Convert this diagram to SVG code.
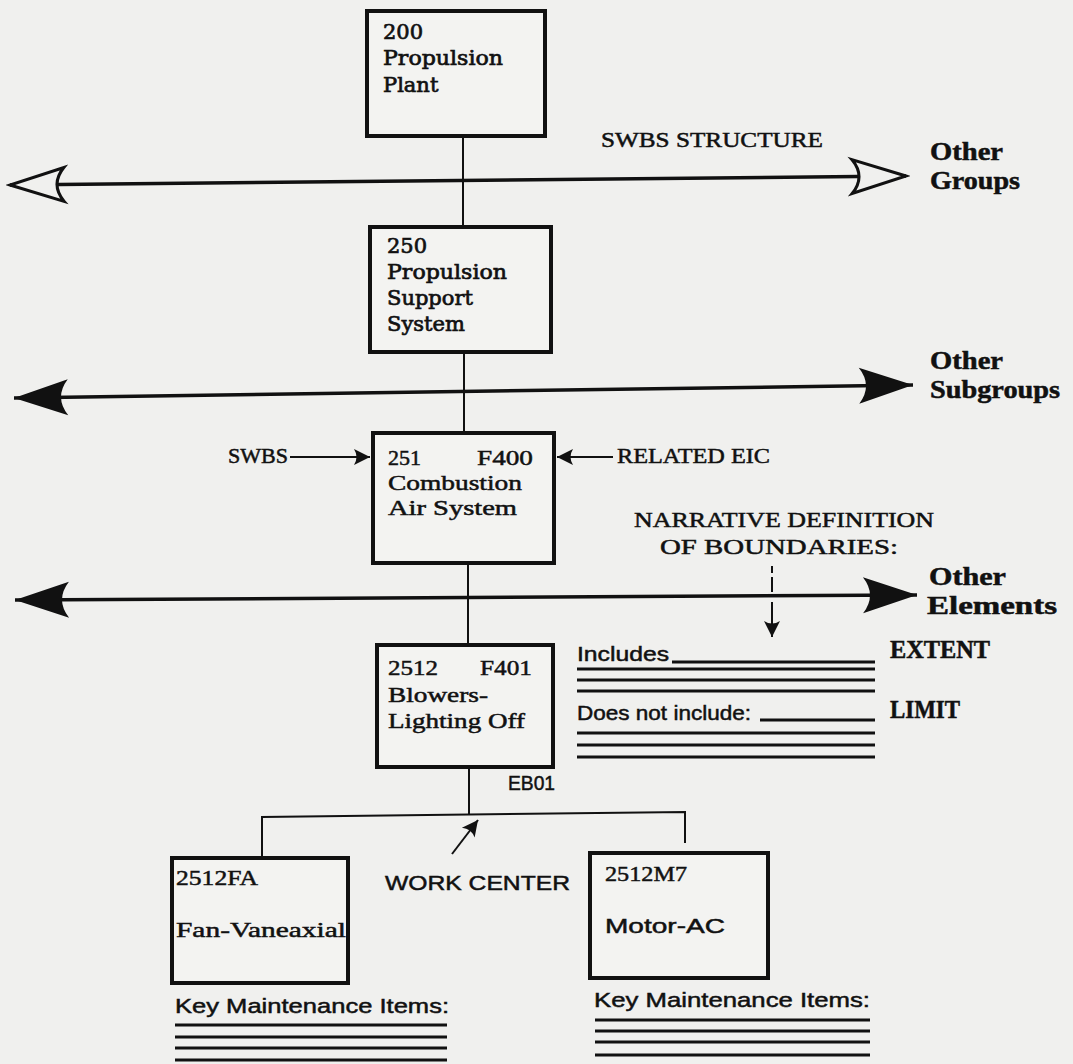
<svg xmlns="http://www.w3.org/2000/svg" width="1073" height="1064" viewBox="0 0 1073 1064">
<style>
.bg{fill:#f0f0ee}
.box{fill:#f3f3f1;stroke:#111;stroke-width:4}
.ln{fill:none;stroke:#111;stroke-width:2}
.axis{fill:none;stroke:#111;stroke-width:3.5}
.rule{fill:none;stroke:#111;stroke-width:3}
text{stroke:#111;stroke-width:0.5}
.bt{font-family:"DejaVu Serif",serif;font-size:21px;fill:#111;stroke-width:0.7}
.st{font-family:"Liberation Serif",serif;font-size:22px;fill:#111}
.sb{font-family:"Liberation Serif",serif;font-size:25px;font-weight:bold;fill:#111}
.ss{font-family:"Liberation Sans",sans-serif;font-size:21px;fill:#111}
</style>
<defs>
<marker id="open" viewBox="-60 -22 64 44" refX="0" refY="0" markerWidth="64" markerHeight="44" markerUnits="userSpaceOnUse" orient="auto-start-reverse">
<path d="M0,0 L-54,-17 Q-40,0 -54,17 Z" fill="#f0f0ee" stroke="#111" stroke-width="3" stroke-linejoin="miter"/>
</marker>
<marker id="solid" viewBox="-60 -22 64 44" refX="0" refY="0" markerWidth="64" markerHeight="44" markerUnits="userSpaceOnUse" orient="auto-start-reverse">
<path d="M0,0 L-54,-18 Q-40,0 -54,18 Z" fill="#111"/>
</marker>
<marker id="small" viewBox="-18 -10 20 20" refX="0" refY="0" markerWidth="20" markerHeight="20" markerUnits="userSpaceOnUse" orient="auto-start-reverse">
<path d="M0,0 L-16,-8 Q-11,0 -16,8 Z" fill="#111"/>
</marker>
</defs>
<rect class="bg" x="0" y="0" width="1073" height="1064"/>

<g id="connectors">
<line class="ln" x1="463" y1="136" x2="463" y2="227"/>
<line class="ln" x1="464" y1="352" x2="464" y2="433"/>
<line class="ln" x1="468" y1="563" x2="468" y2="645"/>
<line class="ln" x1="469" y1="767" x2="469" y2="815"/>
<polyline class="ln" points="262,858 262,817 685,812 685,843"/>
<line class="axis" x1="10" y1="185" x2="906" y2="176" marker-start="url(#open)" marker-end="url(#open)"/>
<line class="axis" x1="14" y1="398" x2="913" y2="385" marker-start="url(#solid)" marker-end="url(#solid)"/>
<line class="axis" x1="15" y1="600" x2="917" y2="595" marker-start="url(#solid)" marker-end="url(#solid)"/>
<line class="ln" stroke-width="3" x1="290" y1="457" x2="370" y2="457" marker-end="url(#small)"/>
<line class="ln" stroke-width="3" x1="613" y1="457" x2="557" y2="457" marker-end="url(#small)"/>
<path class="ln" stroke-width="3" d="M772,566 V573 M772,577 V592"/>
<line class="ln" stroke-width="3" x1="772" y1="602" x2="772" y2="637" marker-end="url(#small)"/>
<line class="ln" stroke-width="3" x1="452" y1="854" x2="478" y2="820" marker-end="url(#small)"/>
</g>

<g id="n200">
<rect class="box" x="367" y="11" width="178" height="125"/>
<text class="bt" x="383" y="39">200</text>
<text class="bt" x="383" y="65" textLength="120" lengthAdjust="spacingAndGlyphs">Propulsion</text>
<text class="bt" x="383" y="92">Plant</text>
</g>

<g id="n250">
<rect class="box" x="370" y="227" width="181" height="125"/>
<text class="bt" x="387" y="253">250</text>
<text class="bt" x="387" y="279" textLength="120" lengthAdjust="spacingAndGlyphs">Propulsion</text>
<text class="bt" x="387" y="305">Support</text>
<text class="bt" x="387" y="331">System</text>
</g>

<g id="n251">
<rect class="box" x="373" y="433" width="181" height="130"/>
<text class="st" x="388" y="465">251</text>
<text class="st" x="477" y="465" textLength="56" lengthAdjust="spacingAndGlyphs">F400</text>
<text class="st" x="388" y="490" textLength="134" lengthAdjust="spacingAndGlyphs">Combustion</text>
<text class="st" x="388" y="515" textLength="129" lengthAdjust="spacingAndGlyphs">Air System</text>
</g>

<g id="n2512">
<rect class="box" x="377" y="645" width="176" height="122"/>
<text class="st" x="388" y="675" textLength="50" lengthAdjust="spacingAndGlyphs">2512</text>
<text class="st" x="480" y="675" textLength="52" lengthAdjust="spacingAndGlyphs">F401</text>
<text class="st" x="388" y="702" textLength="100" lengthAdjust="spacingAndGlyphs">Blowers-</text>
<text class="st" x="388" y="728" textLength="137" lengthAdjust="spacingAndGlyphs">Lighting Off</text>
</g>

<g id="n2512FA">
<rect class="box" x="172" y="858" width="176" height="125"/>
<text class="st" x="176" y="885" textLength="82" lengthAdjust="spacingAndGlyphs">2512FA</text>
<text class="st" x="176" y="937" textLength="170" lengthAdjust="spacingAndGlyphs">Fan-Vaneaxial</text>
</g>

<g id="n2512M7">
<rect class="box" x="590" y="853" width="178" height="125"/>
<text class="st" x="605" y="881" textLength="82" lengthAdjust="spacingAndGlyphs">2512M7</text>
<text class="ss" x="605" y="933" textLength="120" lengthAdjust="spacingAndGlyphs">Motor-AC</text>
</g>

<g id="labels">
<text class="st" x="601" y="147" textLength="222" lengthAdjust="spacingAndGlyphs">SWBS STRUCTURE</text>
<text class="sb" x="930" y="160" textLength="73" lengthAdjust="spacingAndGlyphs">Other</text>
<text class="sb" x="930" y="189" textLength="90" lengthAdjust="spacingAndGlyphs">Groups</text>
<text class="sb" x="930" y="369" textLength="73" lengthAdjust="spacingAndGlyphs">Other</text>
<text class="sb" x="930" y="398" textLength="130" lengthAdjust="spacingAndGlyphs">Subgroups</text>
<text class="sb" x="929" y="585" textLength="77" lengthAdjust="spacingAndGlyphs">Other</text>
<text class="sb" x="927" y="614" textLength="130" lengthAdjust="spacingAndGlyphs">Elements</text>
<text class="st" x="228" y="463" textLength="60" lengthAdjust="spacingAndGlyphs">SWBS</text>
<text class="st" x="617" y="463" textLength="153" lengthAdjust="spacingAndGlyphs">RELATED EIC</text>
<text class="st" x="634" y="527" textLength="300" lengthAdjust="spacingAndGlyphs">NARRATIVE DEFINITION</text>
<text class="st" x="660" y="554" textLength="238" lengthAdjust="spacingAndGlyphs">OF BOUNDARIES:</text>
<text class="ss" x="577" y="661" textLength="92" lengthAdjust="spacingAndGlyphs">Includes</text>
<text class="sb" x="890" y="658" font-size="22" textLength="100" lengthAdjust="spacingAndGlyphs">EXTENT</text>
<text class="ss" x="577" y="720" textLength="174" lengthAdjust="spacingAndGlyphs">Does not include:</text>
<text class="sb" x="890" y="718" font-size="22" textLength="70" lengthAdjust="spacingAndGlyphs">LIMIT</text>
<text class="ss" x="508" y="790" font-size="18" textLength="47" lengthAdjust="spacingAndGlyphs">EB01</text>
<text class="ss" x="385" y="890" textLength="185" lengthAdjust="spacingAndGlyphs">WORK CENTER</text>
<text class="ss" x="175" y="1013" font-size="23" textLength="274" lengthAdjust="spacingAndGlyphs">Key Maintenance Items:</text>
<text class="ss" x="594" y="1007" font-size="23" textLength="276" lengthAdjust="spacingAndGlyphs">Key Maintenance Items:</text>
</g>

<g id="rules">
<path class="rule" d="M672,662 H875 M577,669 H875 M577,680 H875 M577,691 H875"/>
<path class="rule" d="M760,720 H875 M577,733 H875 M577,745 H875 M577,757 H875"/>
<path class="rule" d="M175,1025 H447 M175,1037 H447 M175,1048 H447 M175,1060 H447"/>
<path class="rule" d="M595,1020 H870 M595,1031 H870 M595,1042 H870 M595,1055 H870"/>
</g>
</svg>
